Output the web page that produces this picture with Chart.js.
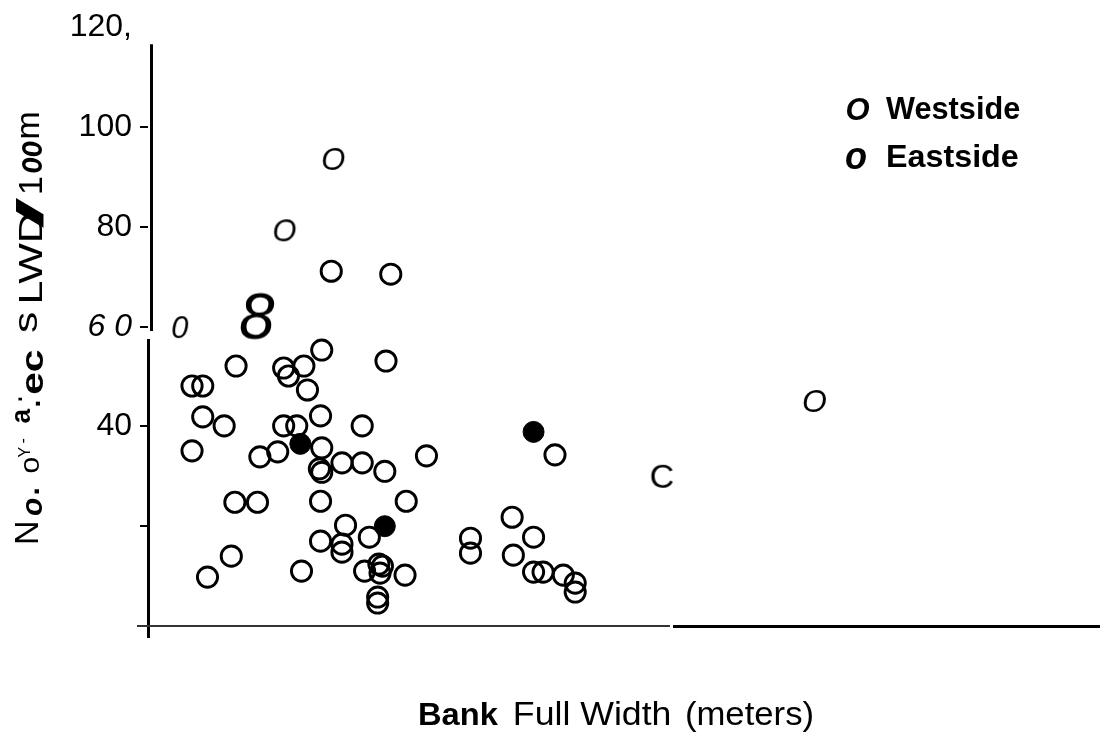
<!DOCTYPE html>
<html>
<head>
<meta charset="utf-8">
<script src="https://cdn.jsdelivr.net/npm/chart.js@4.4.1/dist/chart.umd.min.js"></script>
<style>
  html, body { margin: 0; padding: 0; background: #fff; }
  #wrap { width: 1102px; height: 732px; position: relative; }
</style>
</head>
<body>
<div id="wrap"><canvas id="c" width="1102" height="732"></canvas></div>
<script>
// ---------------- DATA ----------------
// Westside streams (open circles): bank full width (x) vs LWD pieces / 100 m (y)
const westX = [7.7, 10.2, 3.7, 1.85, 2.3, 5.7, 5.9, 6.55, 7.3, 6.7,
               10.0, 2.3, 3.2, 1.85, 5.7, 6.25, 7.25, 9.0, 7.3, 4.7,
               5.45, 7.2, 7.3, 8.15, 9.0, 9.95, 11.7, 3.65, 4.6, 7.25,
               10.85, 8.3, 9.3, 7.25, 8.15, 8.15, 3.5, 2.5, 6.45, 9.1,
               9.7, 9.85, 9.75, 10.8, 9.65, 9.65, 17.1, 15.3, 16.2, 13.55,
               13.55, 15.35, 16.2, 16.6, 17.45, 17.95, 17.95];
const westY = [71.1, 70.5, 52.1, 48.1, 48.1, 51.7, 50.1, 52.1, 55.3, 47.3,
               53.1, 41.9, 40.1, 35.1, 40.1, 40.1, 42.1, 40.1, 35.7, 33.9,
               34.9, 31.5, 30.8, 32.7, 32.7, 31.0, 34.1, 24.8, 24.8, 25.0,
               25.0, 20.2, 17.8, 17.0, 16.4, 14.8, 14.0, 9.8, 11.0, 11.0,
               12.4, 12.0, 10.6, 10.2, 5.8, 4.6, 34.3, 21.8, 17.8, 17.6,
               14.6, 14.2, 10.8, 10.8, 10.2, 8.6, 6.8];
// Eastside streams (filled circles)
const eastX = [6.4, 9.95, 16.2];
const eastY = [36.5, 20.0, 38.9];
// Points that appear in the scanned figure as letter glyphs
const glyphX = [7.8, 5.75, 1.35, 4.6, 28.0, 21.6];
const glyphY = [93.6, 79.3, 59.9, 62.1, 45.1, 30.0];
const glyphChars = ["O", "O", "0", "8", "O", "C"];
// Axis ticks
const yTickValues = [0, 20, 40, 60, 80, 100, 120];
const yTickLabels = ["", "", "40", "6 0", "80", "100", "120,"];
// Text
const legendGlyphs = ["O", "o"];
const legendLabels = ["Westside", "Eastside"];
const xTitleParts = ["Bank", "Full Width", "(meters)"];
const yTitleParts = ["N", "o", ".", "o", "Y", "-", "a", ".", ".", "ec", "s", "LWD", "/", "1", "oo", "m"];

// ---------------- STYLES ----------------
const FAM = '"Liberation Sans", Arial, Helvetica, sans-serif';
const yTickItalic = [false, false, false, true, false, false, false];
const yTickMarkShown = [true, true, true, true, true, true, false];
const glyphFonts = ["italic 31px", "italic 31px", "italic 31px", "italic 64px", "italic 32px", "34px"];
const legendGlyphFonts = ["bold italic 31px", "bold italic 38px"];
const legendGlyphPos = [{x: 858, y: 109, len: 23}, {x: 856, y: 158.5, len: 20}];
const legendTextPos = [{l: 886, r: 1020, b: 119, f: "bold 31px"}, {l: 888, r: 1018, b: 167, f: "bold 32px"}];
const xTitlePos = [{l: 420, r: 498, f: "bold 32px"}, {l: 515, r: 670, f: "33px"}, {l: 687, r: 812, f: "33px"}];
const xTitleBaseline = 725;
const yTitlePos = [
  {f: "34px", x: 26, y: 533, len: 20},
  {f: "bold italic 30px", x: 34, y: 507, len: 18},
  {f: "bold 30px", x: 36, y: 491, len: 5},
  {f: "28px", x: 31, y: 465, len: 15},
  {f: "16px", x: 24, y: 452, len: 11},
  {f: "16px", x: 23, y: 441, len: 5},
  {f: "bold 28px", x: 22, y: 416, len: 15},
  {f: "bold 28px", x: 37, y: 404, len: 5},
  {f: "bold 24px", x: 20, y: 399, len: 4},
  {f: "bold 32px", x: 34, y: 372, len: 43},
  {f: "34px", x: 28, y: 323, len: 20},
  {f: "34px", x: 30, y: 258, len: 88},
  {f: "bold 36px", x: 30, y: 213, len: 32},
  {f: "34px", x: 30, y: 185, len: 16},
  {f: "bold italic 36px", x: 32, y: 157, len: 31},
  {f: "34px", x: 30, y: 125, len: 25}
];

function glyphCanvas(ch, font) {
  const c = document.createElement('canvas');
  let g = c.getContext('2d');
  g.font = font + ' ' + FAM;
  const m = g.measureText(ch);
  const w = Math.ceil(m.actualBoundingBoxLeft + m.actualBoundingBoxRight) + 4;
  const h = Math.ceil(m.actualBoundingBoxAscent + m.actualBoundingBoxDescent) + 4;
  c.width = w; c.height = h;
  g = c.getContext('2d');
  g.font = font + ' ' + FAM;
  g.fillStyle = '#000';
  g.textAlign = 'left';
  g.textBaseline = 'alphabetic';
  g.fillText(ch, 2 + m.actualBoundingBoxLeft, 2 + m.actualBoundingBoxAscent);
  return c;
}

function drawCentered(ctx, t, font, cx, cy, len, rot) {
  ctx.save();
  ctx.font = font + ' ' + FAM;
  ctx.fillStyle = '#000';
  ctx.textAlign = 'left';
  ctx.textBaseline = 'alphabetic';
  const m = ctx.measureText(t);
  const w = m.actualBoundingBoxLeft + m.actualBoundingBoxRight;
  const sx = len ? len / w : 1;
  ctx.translate(cx, cy);
  if (rot) ctx.rotate(rot);
  ctx.scale(sx, 1);
  ctx.fillText(t, -(m.actualBoundingBoxRight - m.actualBoundingBoxLeft) / 2,
               (m.actualBoundingBoxAscent - m.actualBoundingBoxDescent) / 2);
  ctx.restore();
}

function drawSpan(ctx, t, font, l, r, base) {
  ctx.save();
  ctx.font = font + ' ' + FAM;
  ctx.fillStyle = '#000';
  ctx.textAlign = 'left';
  ctx.textBaseline = 'alphabetic';
  const m = ctx.measureText(t);
  const w = m.actualBoundingBoxLeft + m.actualBoundingBoxRight;
  ctx.translate(l, base);
  ctx.scale((r - l) / w, 1);
  ctx.fillText(t, m.actualBoundingBoxLeft, 0);
  ctx.restore();
}

function seg(ctx, x1, y1, x2, y2, w, col) {
  ctx.beginPath();
  ctx.lineWidth = w;
  ctx.strokeStyle = col;
  ctx.moveTo(x1, y1);
  ctx.lineTo(x2, y2);
  ctx.stroke();
}

const decor = {
  id: 'decor',
  afterDraw(chart) {
    const ctx = chart.ctx;
    const a = chart.chartArea;
    const xs = chart.scales.x, ys = chart.scales.y;
    ctx.save();
    ctx.lineCap = 'butt';
    // y axis (broken scan line)
    seg(ctx, a.left + 3.5, ys.getPixelForValue(116.6), a.left + 3.5, ys.getPixelForValue(59.1), 3, '#000');
    seg(ctx, a.left + 0.5, ys.getPixelForValue(57.5), a.left + 0.5, a.bottom + 12, 3, '#000');
    // x axis (thin scanned part, then heavier part)
    seg(ctx, a.left - 11, a.bottom, xs.getPixelForValue(21.93), a.bottom, 2, '#333');
    seg(ctx, xs.getPixelForValue(22.06), a.bottom + 0.5, a.right, a.bottom + 0.5, 3, '#000');
    ctx.restore();

    // legend
    for (let i = 0; i < legendLabels.length; i++) {
      const gp = legendGlyphPos[i];
      drawCentered(ctx, legendGlyphs[i], legendGlyphFonts[i], gp.x, gp.y, gp.len, 0);
      const tp = legendTextPos[i];
      drawSpan(ctx, legendLabels[i], tp.f, tp.l, tp.r, tp.b);
    }
    // x title
    for (let i = 0; i < xTitleParts.length; i++) {
      const p = xTitlePos[i];
      drawSpan(ctx, xTitleParts[i], p.f, p.l, p.r, xTitleBaseline);
    }
    // y title (rotated)
    for (let i = 0; i < yTitleParts.length; i++) {
      const p = yTitlePos[i];
      drawCentered(ctx, yTitleParts[i], p.f, p.x, p.y, p.len, -Math.PI / 2);
    }
  }
};

const glyphStyles = glyphChars.map((ch, i) => glyphCanvas(ch, glyphFonts[i]));
const toPts = (xa, ya) => xa.map((x, i) => ({x: x, y: ya[i]}));
const tickIndex = (c) => (c && c.tick) ? yTickValues.indexOf(c.tick.value) : -1;

new Chart(document.getElementById('c'), {
  type: 'scatter',
  data: {
    datasets: [
      {
        label: legendLabels[1],
        data: toPts(eastX, eastY),
        pointStyle: 'circle',
        pointRadius: 10.5,
        pointBackgroundColor: '#000',
        pointBorderColor: '#000',
        pointBorderWidth: 1,
        order: 0
      },
      {
        label: legendLabels[0],
        data: toPts(westX, westY),
        pointStyle: 'circle',
        pointRadius: 10.1,
        pointBackgroundColor: 'rgba(0,0,0,0)',
        pointBorderColor: '#000',
        pointBorderWidth: 2.9,
        order: 1
      },
      {
        label: 'glyphs',
        data: toPts(glyphX, glyphY),
        pointStyle: glyphStyles,
        pointRadius: 10,
        order: 2
      }
    ]
  },
  options: {
    responsive: false,
    animation: false,
    devicePixelRatio: 1,
    clip: false,
    layout: { autoPadding: false, padding: { top: 25, right: 2, left: 0, bottom: 0 } },
    plugins: { legend: { display: false }, tooltip: { enabled: false } },
    scales: {
      x: {
        type: 'linear', min: 0, max: 40,
        grid: { display: false },
        ticks: { display: false },
        border: { display: false },
        afterFit(s) { s.height = 106; s.paddingLeft = 0; s.paddingRight = 0; }
      },
      y: {
        type: 'linear', min: 0, max: 120,
        afterBuildTicks(s) { s.ticks = yTickValues.map(v => ({ value: v })); },
        ticks: {
          color: '#000',
          padding: 8,
          callback: (v) => { const k = yTickValues.indexOf(v); return k >= 0 ? yTickLabels[k] : ''; },
          font: (c) => {
            const k = tickIndex(c);
            return { family: FAM, size: 32, style: (k >= 0 && yTickItalic[k]) ? 'italic' : 'normal' };
          }
        },
        grid: {
          drawOnChartArea: false, drawTicks: true, tickLength: 8, lineWidth: 2,
          color: (c) => { const k = tickIndex(c); return (k >= 0 && !yTickMarkShown[k]) ? 'rgba(0,0,0,0)' : '#000'; }
        },
        border: { display: false },
        afterFit(s) { s.width = 148; }
      }
    }
  },
  plugins: [decor]
});
</script>
</body>
</html>
